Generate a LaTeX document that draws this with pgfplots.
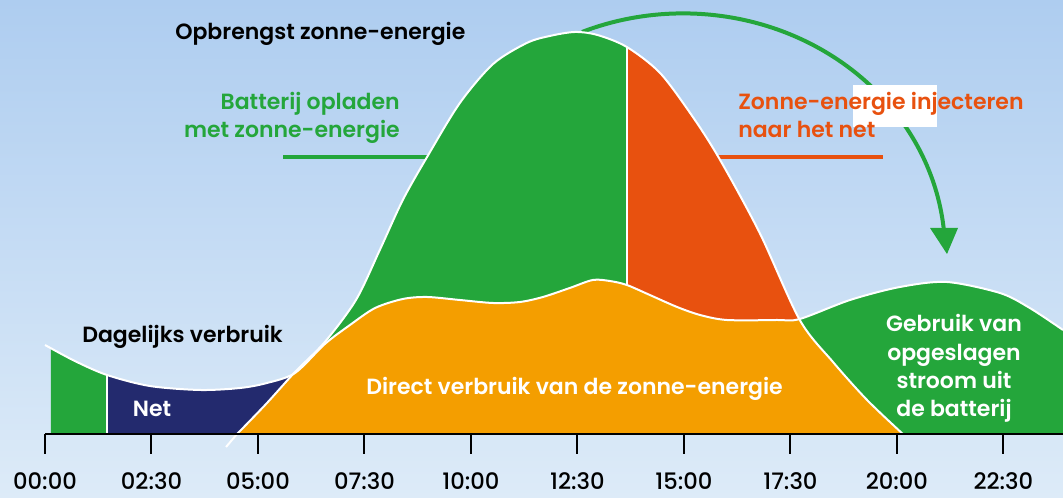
\documentclass[border=0pt]{standalone}
\usepackage{pgfplots}
\pgfplotsset{compat=1.18}
\usepackage{pgfplotstable}
\usepgfplotslibrary{fillbetween}
\usepackage{fontspec}
\setmainfont{Poppins}[BoldFont={Poppins SemiBold}]
\newfontfamily\medfont{Poppins Medium}
\tikzset{fill between/on layer=main}

\definecolor{cgreen}{RGB}{36,166,59}
\definecolor{corange}{RGB}{244,158,0}
\definecolor{cred}{RGB}{232,81,15}
\definecolor{cnavy}{RGB}{35,42,110}
\definecolor{skytop}{RGB}{174,205,240}
\definecolor{skybot}{RGB}{221,235,248}

% daily consumption (hours, height)
\pgfplotstableread{
h v
0 89
0.70 73
1.455 59
2.46 48
3.64 44
4.58 46
5.21 51
5.87 61
6.57 90
7.16 109
7.75 126
8.40 135
8.97 137
9.74 134
10.52 131
11.15 132
11.69 137
12.32 146
12.86 154
13.26 153
13.66 149
14.20 139
14.84 127
15.38 119
16.01 114
17.18 114
17.72 115
18.90 134
20.07 147
21.17 152
22.42 141
23.12 126
23.90 104
}\cons

% solar yield (hours, height)
\pgfplotstableread{
h v
4.51 0
5.19 30
5.87 62
6.57 92
7.30 134
7.86 184
8.40 234
8.97 277
9.74 331
10.52 370
11.31 391
11.85 398
12.44 402
12.97 399
13.66 387
14.44 361
15.21 317
15.85 274
16.78 201
17.72 114
18.50 72
19.30 34
20.14 0
}\solar

\begin{document}
\begin{tikzpicture}
\shade[top color=skytop, bottom color=skybot] (0,0) rectangle (797.25pt,373.5pt);

\begin{scope}[x=0.75pt,y=-0.75pt,yshift=373.5pt]
  % arrow
  \draw[cgreen, line width=3pt] (582,32) arc[start angle=-112.7, end angle=-5, x radius=262, y radius=240];
  \fill[cgreen] (930,228) -- (958,228) -- (947,254) -- cycle;
  % leader lines
  \draw[cgreen, line width=3pt] (283,157) -- (430,157);
  \draw[cred, line width=3pt] (715,157) -- (883,157);
\end{scope}

\begin{axis}[
  at={(33.75pt,48pt)}, anchor=south west,
  scale only axis, width=763.5pt, height=325.5pt,
  xmin=0, xmax=23.9, ymin=0, ymax=434,
  clip=false, axis on top,
  axis x line*=bottom, axis y line=none,
  axis line style={black, line width=2.2pt},
  xtick={0,2.5,5,7.5,10,12.5,15,17.5,20,22.5},
  xticklabels={00:00,02:30,05:00,07:30,10:00,12:30,15:00,17:30,20:00,22:30},
  minor tick num=0,
  tick align=outside,
  major tick length=15pt,
  tick style={black, line width=1.5pt},
  xticklabel style={font=\medfont\fontsize{17}{19}\selectfont, anchor=base, text depth=0pt, yshift=-26.5pt},
]
\addplot[draw=none, smooth, name path=C] table {\cons};
\addplot[draw=none, smooth, name path=S] table {\solar};
\addplot[draw=none, name path=AX] coordinates {(0,0) (24,0)};

\addplot[fill=cgreen, draw=none] fill between[of=C and AX, soft clip={domain=0.14:23.9}];
\addplot[fill=cnavy, draw=none] fill between[of=C and AX, soft clip={domain=1.455:7}];
\addplot[fill=cred, draw=none] fill between[of=S and AX, soft clip={domain=13.66:20.2}];
\addplot[fill=cgreen, draw=none] fill between[of=S and AX, soft clip={domain=4.4:13.66}];
\fill[corange, intersection segments={of=C and S, sequence={R1 -- L2 -- R3}}];

\addplot[white, line width=1.5pt, smooth] table {\cons};
\addplot[white, line width=1.5pt, smooth] table {\solar};
\addplot[white, line width=1.5pt] coordinates {(4.25,-13) (4.51,0)};
\addplot[white, line width=1.2pt] coordinates {(1.455,0) (1.455,59)};
\addplot[white, line width=1.2pt] coordinates {(13.66,149) (13.66,387)};
\end{axis}

\begin{scope}[x=0.75pt,y=-0.75pt,yshift=373.5pt, every node/.style={inner sep=0pt}]
  \fill[white] (853,85) rectangle (937,127);
  \begin{scope}[font=\bfseries\fontsize{16.5}{19}\selectfont]
  \node[anchor=base west] at (175,40) {Opbrengst zonne-energie};
  \node[anchor=base east, text=cgreen] at (400,110) {Batterij opladen};
  \node[anchor=base east, text=cgreen] at (400,138) {met zonne-energie};
  \node[anchor=base west, text=cred] at (738,110) {Zonne-energie injecteren};
  \node[anchor=base west, text=cred] at (738,138) {naar het net};
  \node[anchor=base west] at (82,343) {Dagelijks verbruik};
  \node[anchor=base, text=white] at (152,417) {Net};
  \node[anchor=base, text=white] at (574.5,394.5) {Direct verbruik van de zonne-energie};
  \node[anchor=base, text=white] at (954,332) {Gebruik van};
  \node[anchor=base, text=white] at (954,361) {opgeslagen};
  \node[anchor=base, text=white] at (954,389) {stroom uit};
  \node[anchor=base, text=white] at (954,417) {de batterij};
  \end{scope}
\end{scope}
\pgfresetboundingbox
\path[use as bounding box] (0,0) rectangle (797.25pt,373.5pt);
\end{tikzpicture}
\end{document}
